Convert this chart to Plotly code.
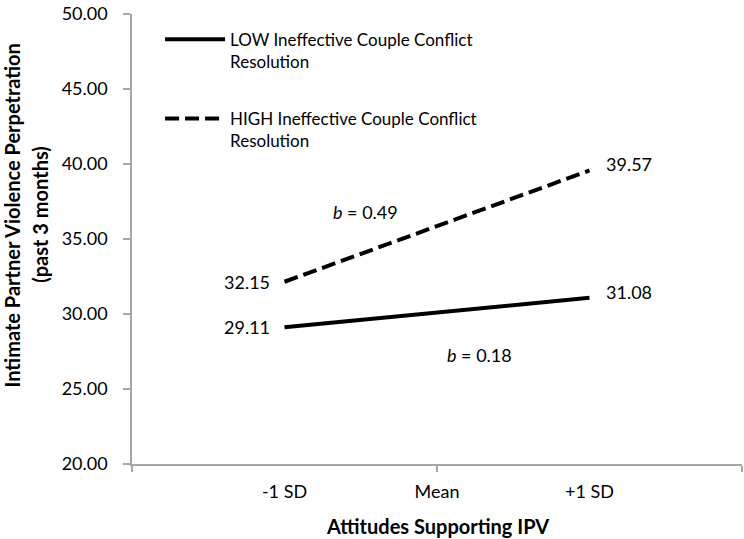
import plotly.graph_objects as go

# ---- data ----
x_pos = [-1, 1]
x_tick_vals = [-1, 0, 1]
x_tick_text = ["-1 SD", "Mean", "+1 SD"]
low_values = [29.11, 31.08]
high_values = [32.15, 39.57]
series_names = ["LOW Ineffective Couple Conflict<br>Resolution",
                "HIGH Ineffective Couple Conflict<br>Resolution"]
y_tick_vals = [20, 25, 30, 35, 40, 45, 50]
y_tick_text = [f"{v:.2f}" for v in y_tick_vals]

FONT = "Lato, 'Open Sans', sans-serif"
AXIS_COLOR = "#a6a6a6"

fig = go.Figure()
fig.add_trace(go.Scatter(x=x_pos, y=low_values, mode="lines", name=series_names[0],
                         legendgroup="low",
                         line=dict(color="black", width=4)))
fig.add_trace(go.Scatter(x=x_pos, y=high_values, mode="lines", name=series_names[1],
                         legendgroup="high",
                         line=dict(color="black", width=4, dash="14px,6px")))

annotations = []
# value labels
for vals in (low_values, high_values):
    for xv, yv in zip(x_pos, vals):
        left = xv < 0
        annotations.append(dict(x=xv, y=yv, xref="x", yref="y", text=f"{yv:.2f}",
                                showarrow=False, xanchor="right" if left else "left",
                                xshift=-13 if left else 14, yshift=0 if left else 6,
                                font=dict(size=18, color="black", family=FONT)))
# slope labels
annotations.append(dict(x=-0.47, y=36.8, xref="x", yref="y", text="<i>b</i> = 0.49",
                        showarrow=False, font=dict(size=18, color="black", family=FONT)))
annotations.append(dict(x=0.28, y=27.3, xref="x", yref="y", text="<i>b</i> = 0.18",
                        showarrow=False, font=dict(size=18, color="black", family=FONT)))
# y title (two lines)
annotations.append(dict(x=-0.196, y=0.553, xref="paper", yref="paper",
                        text="<b>Intimate Partner Violence Perpetration</b>",
                        textangle=-90, showarrow=False, xanchor="center", yanchor="middle",
                        font=dict(size=20, color="black", family=FONT)))
annotations.append(dict(x=-0.150, y=0.553, xref="paper", yref="paper",
                        text="<b>(past 3 months)</b>",
                        textangle=-90, showarrow=False, xanchor="center", yanchor="middle",
                        font=dict(size=20, color="black", family=FONT)))
# x title
annotations.append(dict(x=0.5, y=-0.138, xref="paper", yref="paper",
                        text="<b>Attitudes Supporting IPV</b>", showarrow=False,
                        xanchor="center", yanchor="middle",
                        font=dict(size=20, color="black", family=FONT)))

fig.update_layout(
    width=744, height=539,
    margin=dict(l=132, r=2, t=8, b=75),
    paper_bgcolor="white", plot_bgcolor="white",
    font=dict(family=FONT, color="black", size=18),
    annotations=annotations,
    showlegend=True,
    legend=dict(x=0.046, y=0.983, xanchor="left", yanchor="top",
                font=dict(size=17, family=FONT, color="black"),
                valign="top", traceorder="grouped", tracegroupgap=32,
                itemwidth=60, bgcolor="rgba(0,0,0,0)"),
)
fig.update_xaxes(range=[-2, 2], tickvals=x_tick_vals, ticktext=x_tick_text,
                 ticks="", showgrid=False, zeroline=False,
                 showline=True, linecolor=AXIS_COLOR, linewidth=1.5,
                 ticklabelstandoff=11,
                 tickfont=dict(size=18, family=FONT, color="black"),
                 minor=dict(tickvals=[-2, 0, 2], ticks="outside", ticklen=6,
                            tickcolor=AXIS_COLOR, tickwidth=1.5, showgrid=False))
fig.update_yaxes(range=[20, 50], tickvals=y_tick_vals, ticktext=y_tick_text,
                 ticks="outside", ticklen=7, tickcolor=AXIS_COLOR, tickwidth=1.5,
                 showgrid=False, zeroline=False,
                 showline=True, linecolor=AXIS_COLOR, linewidth=1.5,
                 ticklabelstandoff=12, ticklabeloverflow="allow",
                 tickfont=dict(size=18, family=FONT, color="black"))

fig.write_html("out.html", config={"displayModeBar": False},
               post_script="document.body.style.margin='0';document.body.style.padding='0';")
